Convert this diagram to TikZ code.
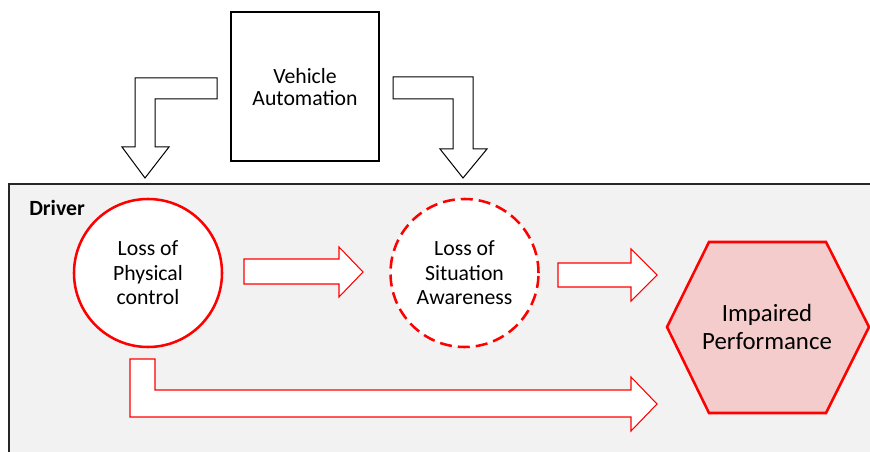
\documentclass[tikz,border=0pt]{standalone}
\usepackage{fontspec}
\setmainfont{Carlito}
\definecolor{hexfill}{RGB}{244,204,204}
\begin{document}
\begin{tikzpicture}[x=0.75pt,y=-0.75pt,
  txt/.style={font=\fontsize{16.3}{18.3}\selectfont, align=center, inner sep=0pt},
  frame/.style={draw=black!85, line width=1.5pt, fill=black!5},
  autobox/.style={draw=black, line width=1.1pt, fill=white},
  lossnode/.style={circle, draw=red, line width=1.9pt, fill=white, minimum size=111pt, txt},
  blockarrow/.style={draw=black, line width=0.75pt, fill=white, line join=miter},
  redarrow/.style={draw=red, line width=0.8pt, fill=white, line join=miter},
  hexshape/.style={draw=red, line width=1.9pt, fill=hexfill, line join=miter}
]
\useasboundingbox (0,0) rectangle (870,452);

% Driver area
\draw[frame] (9,184) rectangle (890,480);
\node[font=\fontsize{16.3}{18}\selectfont\bfseries, anchor=west, inner sep=0pt] (driver) at (29,208) {Driver};

% Vehicle automation box
\draw[autobox] (231,12) rectangle (379,161);
\node[txt, font=\fontsize{16.3}{16.6}\selectfont] (auto) at (305,87) {Vehicle\\Automation};

% Bent block arrows from the automation box
\draw[blockarrow] (217,78) -- (135,78) -- (135,147) -- (122,147) -- (145,178)
  -- (169,147) -- (155,147) -- (155,99) -- (217,99) -- cycle;
\draw[blockarrow] (393,77) -- (473,77) -- (473,149) -- (487,149) -- (463,178)
  -- (440,149) -- (453,149) -- (453,99) -- (393,99) -- cycle;

% Loss nodes
\node[lossnode] (phys) at (148,273) {Loss of\\Physical\\control};
\node[lossnode, dash pattern=on 9pt off 4.5pt] (sa) at (464.5,273) {Loss of\\Situation\\Awareness};

% Impaired performance hexagon
\draw[hexshape] (709,242) -- (826,242) -- (869,327) -- (826,413) -- (709,413) -- (667,327) -- cycle;
\node[txt, font=\fontsize{18.6}{20.3}\selectfont] (perf) at (767,327) {Impaired\\Performance};

% Red block arrows
\draw[redarrow] (244,259) -- (339,259) -- (339,247) -- (363,272) -- (339,297)
  -- (339,284) -- (244,284) -- cycle;
\draw[redarrow] (558,263) -- (631,263) -- (631,249) -- (657,275) -- (631,301)
  -- (631,287) -- (558,287) -- cycle;
\draw[redarrow] (130,359) -- (155,359) -- (155,390) -- (631,390) -- (631,377)
  -- (657,404) -- (631,431) -- (631,417) -- (130,417) -- cycle;
\end{tikzpicture}
\end{document}
